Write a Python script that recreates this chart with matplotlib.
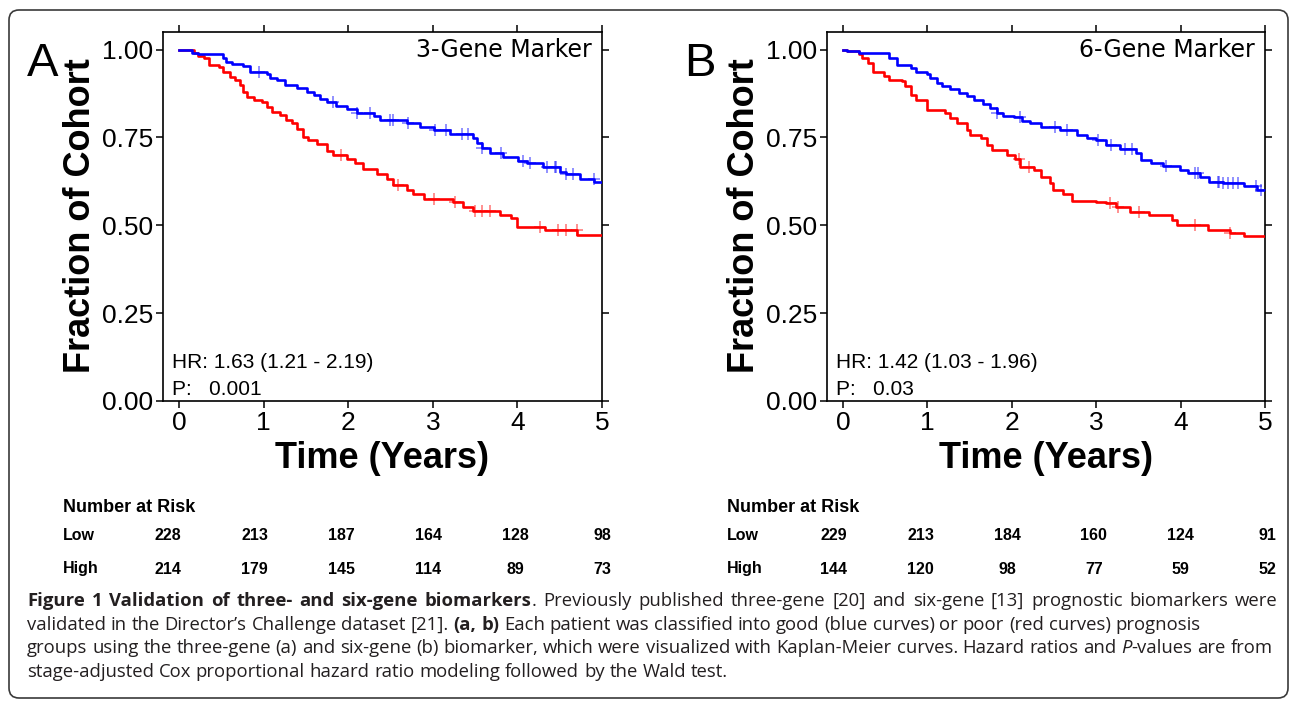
import numpy as np
import matplotlib
matplotlib.use("Agg")
import matplotlib.pyplot as plt
from matplotlib.patches import FancyBboxPatch
from matplotlib.transforms import IdentityTransform

# ---------------- data ----------------
A_low_t = [0, 0.15, 0.22, 0.52, 0.56, 0.62, 0.76, 0.84, 1.04, 1.08, 1.16, 1.25, 1.39, 1.51, 1.60, 1.67, 1.75, 1.86, 1.98, 2.10,
           2.30, 2.38, 2.69, 2.85, 3.01, 3.20, 3.48, 3.52, 3.58, 3.68, 3.83, 4.01, 4.11, 4.30, 4.50, 4.58, 4.74, 4.91, 5.0]
A_low_s = [1.0, 0.99, 0.986, 0.975, 0.965, 0.96, 0.953, 0.937, 0.93, 0.92, 0.914, 0.90, 0.89, 0.88, 0.87, 0.86, 0.85, 0.84, 0.83, 0.82,
           0.81, 0.80, 0.79, 0.78, 0.771, 0.76, 0.748, 0.734, 0.72, 0.706, 0.695, 0.683, 0.676, 0.665, 0.652, 0.646, 0.633, 0.622, 0.622]
A_high_t = [0, 0.18, 0.22, 0.29, 0.35, 0.47, 0.52, 0.60, 0.66, 0.72, 0.75, 0.80, 0.88, 0.98, 1.04, 1.10, 1.19, 1.27, 1.33, 1.39,
            1.47, 1.53, 1.63, 1.75, 1.82, 1.98, 2.08, 2.18, 2.34, 2.46, 2.53, 2.69, 2.77, 2.89, 3.24, 3.36, 3.48, 3.80, 3.92, 4.00,
            4.33, 4.71, 5.0]
A_high_s = [1.0, 0.99, 0.983, 0.975, 0.955, 0.95, 0.937, 0.922, 0.913, 0.90, 0.88, 0.866, 0.856, 0.85, 0.837, 0.823, 0.813, 0.80, 0.79, 0.775,
            0.751, 0.742, 0.73, 0.71, 0.70, 0.69, 0.676, 0.66, 0.647, 0.633, 0.614, 0.60, 0.588, 0.576, 0.567, 0.553, 0.54, 0.53, 0.52, 0.496,
            0.487, 0.472, 0.472]
A_low_cens = [0.94, 1.82, 2.10, 2.26, 2.49, 2.53, 2.71, 3.03, 3.16, 3.34, 3.42, 3.58, 3.81, 4.07, 4.15, 4.35, 4.44, 4.46, 4.58, 4.66, 4.90]
A_high_cens = [1.92, 2.59, 3.01, 3.26, 3.50, 3.58, 3.68, 4.27, 4.48, 4.58, 4.70]

B_low_t = [0, 0.05, 0.19, 0.54, 0.64, 0.80, 0.86, 1.0, 1.03, 1.11, 1.17, 1.27, 1.37, 1.47, 1.55, 1.66, 1.74, 1.82, 1.90, 2.02,
           2.12, 2.22, 2.35, 2.57, 2.77, 2.89, 3.0, 3.12, 3.28, 3.47, 3.53, 3.65, 3.79, 3.99, 4.09, 4.23, 4.34, 4.50, 4.75, 4.91, 5.0]
B_low_s = [1.0, 0.995, 0.99, 0.976, 0.957, 0.948, 0.935, 0.93, 0.92, 0.905, 0.895, 0.888, 0.876, 0.867, 0.857, 0.846, 0.833, 0.819, 0.811, 0.807,
           0.798, 0.79, 0.78, 0.771, 0.757, 0.748, 0.743, 0.729, 0.716, 0.705, 0.686, 0.676, 0.668, 0.657, 0.65, 0.638, 0.624, 0.619, 0.611, 0.60, 0.60]
B_high_t = [0, 0.05, 0.19, 0.23, 0.29, 0.35, 0.48, 0.54, 0.70, 0.74, 0.80, 0.86, 1.0, 1.21, 1.27, 1.35, 1.47, 1.51, 1.63, 1.71,
            1.77, 1.94, 2.04, 2.10, 2.26, 2.35, 2.45, 2.49, 2.61, 2.71, 3.0, 3.12, 3.24, 3.40, 3.63, 3.90, 3.96, 4.32, 4.58, 4.75, 5.0]
B_high_s = [1.0, 0.995, 0.986, 0.976, 0.962, 0.935, 0.924, 0.914, 0.91, 0.895, 0.871, 0.857, 0.829, 0.819, 0.805, 0.79, 0.771, 0.757, 0.748, 0.729,
            0.714, 0.70, 0.69, 0.667, 0.657, 0.638, 0.619, 0.60, 0.59, 0.57, 0.567, 0.562, 0.552, 0.538, 0.529, 0.514, 0.50, 0.488, 0.478, 0.469, 0.469]
B_low_cens = [1.82, 2.10, 2.51, 2.65, 3.02, 3.18, 3.34, 3.42, 3.83, 4.17, 4.21, 4.44, 4.46, 4.50, 4.56, 4.62, 4.68, 4.89, 4.95]
B_high_cens = [2.08, 2.20, 3.16, 3.26, 3.51, 4.17, 4.58]

panel_letters = ["A", "B"]
marker_titles = ["3-Gene Marker", "6-Gene Marker"]
hr_texts = ["HR: 1.63 (1.21 - 2.19)", "HR: 1.42 (1.03 - 1.96)"]
p_texts = ["P:   0.001", "P:   0.03"]
yticks = [0.0, 0.25, 0.50, 0.75, 1.00]
ytick_labels = ["0.00", "0.25", "0.50", "0.75", "1.00"]
xticks = [0, 1, 2, 3, 4, 5]
risk_rows = ["Low", "High"]
A_risk_low = [228, 213, 187, 164, 128, 98]
A_risk_high = [214, 179, 145, 114, 89, 73]
B_risk_low = [229, 213, 184, 160, 124, 91]
B_risk_high = [144, 120, 98, 77, 59, 52]

# ---------------- figure ----------------
W, H = 1290, 701
fig = plt.figure(figsize=(W / 100, H / 100), dpi=100)
fig.patch.set_facecolor("white")

SANS = "Liberation Sans"
BLUE = "#0000ff"
RED = "#ff0000"


def px_axes(left, top, right, bottom):
    return [left / W, 1 - bottom / H, (right - left) / W, (bottom - top) / H]


axA = fig.add_axes(px_axes(163, 32, 602, 401))
axB = fig.add_axes(px_axes(827, 32, 1265, 401))

panels = [
    (axA, (A_low_t, A_low_s, A_low_cens), (A_high_t, A_high_s, A_high_cens)),
    (axB, (B_low_t, B_low_s, B_low_cens), (B_high_t, B_high_s, B_high_cens)),
]


def step_at(t, s, c):
    t = np.asarray(t)
    s = np.asarray(s)
    idx = np.searchsorted(t, np.asarray(c), side="right") - 1
    return s[idx]


for i, (ax, low, high) in enumerate(panels):
    for (t, s, c), col in ((high, RED), (low, BLUE)):
        ax.plot(t, s, drawstyle="steps-post", color=col, lw=1.9, zorder=3)
        ax.plot(c, step_at(t, s, c), ls="none", marker="+", ms=8, mew=1.1,
                color=col, alpha=0.55, zorder=4)
    ax.set_xlim(-0.19, 5.0)
    ax.set_ylim(0, 1.05)
    ax.set_xticks(xticks)
    ax.set_xticklabels([str(v) for v in xticks], fontfamily=SANS, fontsize=19)
    ax.set_yticks(yticks)
    ax.set_yticklabels(ytick_labels, fontfamily=SANS, fontsize=19)
    ax.tick_params(direction="out", length=5, width=1.1, top=True, right=True,
                   labeltop=False, labelright=False, pad=2)
    for sp in ax.spines.values():
        sp.set_linewidth(1.2)
    ax.set_xlabel("Time (Years)", fontfamily=SANS, fontsize=26, fontweight="bold")
    ax.xaxis.set_label_coords(0.499, -0.155)
    ax.xaxis.label.set_va("center")
    ax.set_ylabel("Fraction of Cohort", fontfamily=SANS, fontsize=26, fontweight="bold")
    ax.yaxis.set_label_coords(-0.188, 0.503)
    ax.yaxis.label.set_va("center")
    ax.text(0.977, 1.0, marker_titles[i], transform=ax.get_yaxis_transform(),
            ha="right", va="center", fontfamily="DejaVu Sans", fontsize=17)
    ax.text(0.02, 0.11, hr_texts[i], transform=ax.get_yaxis_transform(),
            ha="left", va="center", fontfamily=SANS, fontsize=15)
    ax.text(0.02, 0.034, p_texts[i], transform=ax.get_yaxis_transform(),
            ha="left", va="center", fontfamily=SANS, fontsize=15)

# panel letters
fig.text(43 / W, 1 - 64 / H, panel_letters[0], ha="center", va="center",
         fontfamily=SANS, fontsize=34)
fig.text(700 / W, 1 - 64 / H, panel_letters[1], ha="center", va="center",
         fontfamily=SANS, fontsize=34)

# number-at-risk tables (baseline aligned)
tables = [
    (63, np.linspace(168, 602, 6), A_risk_low, A_risk_high),
    (727, np.linspace(834, 1267, 6), B_risk_low, B_risk_high),
]
for x0, cols, low_vals, high_vals in tables:
    fig.text(x0 / W, 1 - 512 / H, "Number at Risk", ha="left", va="baseline",
             fontfamily=SANS, fontsize=13, fontweight="bold")
    for row_name, vals, yy in ((risk_rows[0], low_vals, 539.5), (risk_rows[1], high_vals, 573.5)):
        fig.text(x0 / W, 1 - yy / H, row_name, ha="left", va="baseline",
                 fontfamily=SANS, fontsize=11.5, fontweight="bold")
        for cx, v in zip(cols, vals):
            fig.text(cx / W, 1 - yy / H, str(v), ha="center", va="baseline",
                     fontfamily=SANS, fontsize=11.5, fontweight="bold")

# ---------------- caption ----------------
CAP = "Open Sans"
renderer = fig.canvas.get_renderer()

line1 = [("Figure 1 Validation of three- and six-gene biomarkers", "bold", "normal"),
         (". Previously published three-gene [20] and six-gene [13] prognostic biomarkers were", "normal", "normal")]
line2 = [("validated in the Director\u2019s Challenge dataset [21]. ", "normal", "normal"),
         ("(a, b)", "bold", "normal"),
         (" Each patient was classified into good (blue curves) or poor (red curves) prognosis", "normal", "normal")]
line3 = [("groups using the three-gene (a) and six-gene (b) biomarker, which were visualized with Kaplan-Meier curves. Hazard ratios and ", "normal", "normal"),
         ("P", "normal", "italic"),
         ("-values are from", "normal", "normal")]
line4 = [("stage-adjusted Cox proportional hazard ratio modeling followed by the Wald test.", "normal", "normal")]


def measure(s, size, weight="normal", style="normal"):
    t = fig.text(0, 0, s, fontfamily=CAP, fontsize=size, fontweight=weight, fontstyle=style)
    w = t.get_window_extent(renderer).width
    t.remove()
    return w


def seg_width(segs, size):
    return sum(measure(s.replace(" ", "\u00a0"), size, w, st) for s, w, st in segs)


# fit font size so that line 3 spans its reference width
base = 10.0
w3 = seg_width(line3, base)
cap_size = base * (1270 - 27) / w3


def draw_segments(segs, y_px, size, x_start=27, justify_to=None):
    words = []
    for s, w, st in segs:
        parts = s.split(" ")
        for k, p in enumerate(parts):
            if k > 0:
                words.append((None, w, st))
            if p != "":
                words.append((p, w, st))
    clean = []
    for wd in words:
        if wd[0] is None and (not clean or clean[-1][0] is None):
            continue
        clean.append(wd)
    while clean and clean[-1][0] is None:
        clean.pop()
    space_w = measure("a\u00a0a", size) - measure("aa", size)
    widths = [measure(p, size, w, st) if p is not None else space_w for p, w, st in clean]
    n_sp = sum(1 for p, _, _ in clean if p is None)
    if justify_to is not None and n_sp > 0:
        extra = (justify_to - x_start - sum(widths)) / n_sp
    else:
        extra = 0.0
    x = x_start
    for (p, w, st), wd in zip(clean, widths):
        if p is None:
            x += wd + extra
            continue
        fig.text(x / W, 1 - y_px / H, p, ha="left", va="baseline", fontfamily=CAP,
                 fontsize=size, fontweight=w, fontstyle=st, color="#231f20")
        x += wd


draw_segments(line1, 606, cap_size, justify_to=1278)
draw_segments(line2, 630, cap_size)
draw_segments(line3, 653, cap_size)
draw_segments(line4, 677, cap_size)

# rounded frame around the whole figure
frame = FancyBboxPatch((9, 3), 1279, 688, boxstyle="round,pad=0,rounding_size=10",
                       transform=IdentityTransform(), fill=False, lw=1.2, ec="#3a3a3a")
fig.patches.append(frame)

fig.savefig("out.png", dpi=100)
